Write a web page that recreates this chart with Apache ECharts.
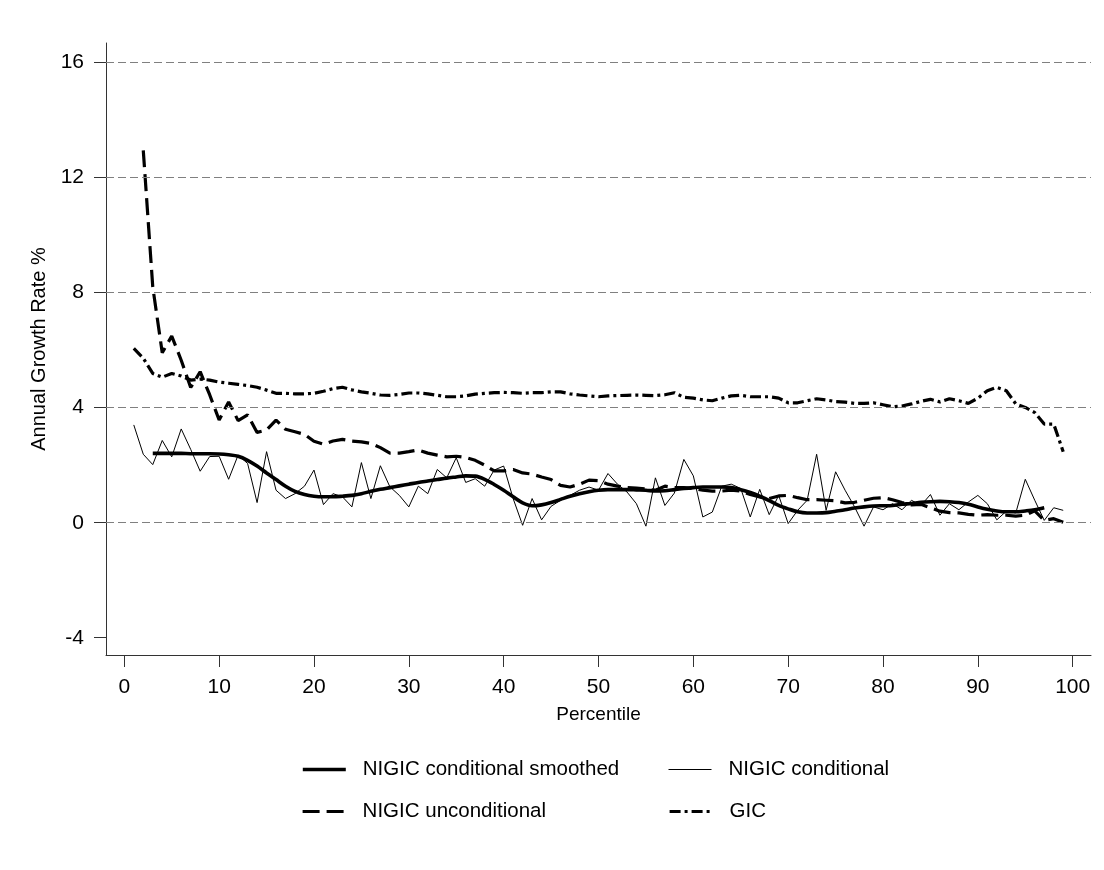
<!DOCTYPE html>
<html>
<head>
<meta charset="utf-8">
<script src="https://cdn.jsdelivr.net/npm/echarts@6/dist/echarts.min.js"></script>
<style>
  html, body { margin: 0; padding: 0; background: #fff; }
  #chart { width: 1104px; height: 870px; }
</style>
</head>
<body>
<div id="chart"></div>
<script>
const percentile = [
  1, 2, 3, 4, 5, 6, 7, 8, 9, 10, 11, 12, 13, 14, 15, 16, 17, 18, 19, 20,
  21, 22, 23, 24, 25, 26, 27, 28, 29, 30, 31, 32, 33, 34, 35, 36, 37, 38, 39, 40,
  41, 42, 43, 44, 45, 46, 47, 48, 49, 50, 51, 52, 53, 54, 55, 56, 57, 58, 59, 60,
  61, 62, 63, 64, 65, 66, 67, 68, 69, 70, 71, 72, 73, 74, 75, 76, 77, 78, 79, 80,
  81, 82, 83, 84, 85, 86, 87, 88, 89, 90, 91, 92, 93, 94, 95, 96, 97, 98, 99
];

// NIGIC conditional smoothed (percentiles 3..97)
const nigicSmoothed = [
  null, null, 2.41, 2.41, 2.41, 2.41, 2.40, 2.40, 2.40, 2.39,
  2.36, 2.31, 2.17, 1.97, 1.73, 1.50, 1.27, 1.09, 0.98, 0.92,
  0.90, 0.90, 0.92, 0.95, 1.01, 1.09, 1.16, 1.22, 1.28, 1.34,
  1.40, 1.45, 1.50, 1.55, 1.59, 1.63, 1.62, 1.51, 1.33, 1.13,
  0.90, 0.69, 0.59, 0.62, 0.70, 0.81, 0.92, 1.01, 1.08, 1.13,
  1.15, 1.15, 1.15, 1.14, 1.13, 1.10, 1.11, 1.15, 1.19, 1.22,
  1.24, 1.24, 1.24, 1.22, 1.15, 1.05, 0.92, 0.77, 0.60, 0.48,
  0.38, 0.34, 0.34, 0.35, 0.40, 0.45, 0.51, 0.55, 0.58, 0.59,
  0.60, 0.64, 0.67, 0.71, 0.73, 0.74, 0.73, 0.70, 0.64, 0.55,
  0.47, 0.41, 0.38, 0.38, 0.41, 0.45, 0.52, null, null
];

// NIGIC conditional (raw)
const nigicConditional = [
  3.40, 2.38, 2.02, 2.86, 2.29, 3.26, 2.55, 1.79, 2.30, 2.31,
  1.51, 2.35, 2.06, 0.70, 2.47, 1.13, 0.84, 1.01, 1.27, 1.83,
  0.63, 1.01, 0.90, 0.55, 2.09, 0.84, 1.98, 1.25, 0.95, 0.55,
  1.27, 1.01, 1.85, 1.56, 2.26, 1.40, 1.53, 1.27, 1.83, 1.97,
  0.84, -0.09, 0.84, 0.10, 0.57, 0.78, 0.95, 1.13, 1.24, 1.13,
  1.71, 1.34, 1.07, 0.66, -0.12, 1.56, 0.60, 1.03, 2.20, 1.63,
  0.20, 0.37, 1.27, 1.34, 1.19, 0.20, 1.16, 0.28, 0.95, -0.03,
  0.43, 0.78, 2.38, 0.43, 1.77, 1.13, 0.55, -0.12, 0.55, 0.45,
  0.66, 0.45, 0.78, 0.60, 0.98, 0.26, 0.66, 0.45, 0.72, 0.95,
  0.66, 0.10, 0.40, 0.34, 1.51, 0.78, 0.08, 0.52, 0.43
];

// NIGIC unconditional (percentiles 2..99)
const nigicUnconditional = [
  null, 12.95, 8.20, 5.91, 6.49, 5.65, 4.70, 5.25, 4.45, 3.57,
  4.20, 3.55, 3.75, 3.14, 3.22, 3.57, 3.25, 3.16, 3.07, 2.83,
  2.73, 2.84, 2.90, 2.84, 2.81, 2.76, 2.61, 2.42, 2.42, 2.47,
  2.53, 2.42, 2.35, 2.29, 2.31, 2.27, 2.17, 2.00, 1.80, 1.80,
  1.85, 1.73, 1.69, 1.59, 1.50, 1.30, 1.24, 1.34, 1.48, 1.46,
  1.34, 1.27, 1.22, 1.20, 1.17, 1.13, 1.27, 1.22, 1.22, 1.19,
  1.13, 1.10, 1.10, 1.13, 1.10, 0.98, 0.90, 0.84, 0.93, 0.95,
  0.87, 0.80, 0.80, 0.78, 0.76, 0.69, 0.71, 0.78, 0.85, 0.87,
  0.80, 0.70, 0.62, 0.64, 0.52, 0.40, 0.35, 0.34, 0.29, 0.26,
  0.28, 0.26, 0.26, 0.23, 0.26, 0.41, 0.08, 0.14, 0.02
];

// GIC
const gic = [
  6.06, 5.72, 5.19, 5.06, 5.19, 5.10, 4.96, 4.99, 4.96, 4.89,
  4.85, 4.81, 4.77, 4.71, 4.61, 4.50, 4.50, 4.48, 4.48, 4.50,
  4.57, 4.66, 4.71, 4.62, 4.55, 4.50, 4.44, 4.43, 4.46, 4.51,
  4.51, 4.48, 4.43, 4.38, 4.38, 4.41, 4.47, 4.50, 4.52, 4.53,
  4.52, 4.50, 4.52, 4.52, 4.55, 4.55, 4.48, 4.44, 4.41, 4.38,
  4.41, 4.42, 4.43, 4.44, 4.43, 4.42, 4.45, 4.52, 4.36, 4.33,
  4.27, 4.24, 4.33, 4.41, 4.43, 4.38, 4.38, 4.38, 4.33, 4.17,
  4.17, 4.24, 4.31, 4.27, 4.21, 4.19, 4.15, 4.15, 4.17, 4.10,
  4.03, 4.06, 4.13, 4.22, 4.29, 4.20, 4.31, 4.24, 4.15, 4.33,
  4.59, 4.71, 4.59, 4.13, 4.01, 3.83, 3.43, 3.43, 2.47
];

const xTicks = [0, 10, 20, 30, 40, 50, 60, 70, 80, 90, 100];
const yTicks = [-4, 0, 4, 8, 12, 16];
const gridValues = [0, 4, 8, 12, 16];

const FONT = '"Liberation Sans", Arial, Helvetica, sans-serif';

function pairs(values) {
  return percentile.map((p, i) => [p, values[i]]);
}

const chart = echarts.init(document.getElementById('chart'), null, { renderer: 'canvas' });

// Legend keys show the series line only (no point marker), at the series' own width
const legendBase = {
  orient: 'horizontal',
  padding: 0,
  itemWidth: 43,
  itemHeight: 14,
  selectedMode: false,
  itemStyle: { color: 'transparent', borderWidth: 0, opacity: 0 },
  lineStyle: { width: 'inherit' },
  textStyle: { fontFamily: FONT, fontSize: 20.5, color: '#000', padding: [0, 0, 0, 12] }
};

chart.setOption({
  animation: false,
  backgroundColor: '#fff',
  grid: { left: 106, right: 13, top: 43, bottom: 215, containLabel: false },
  legend: [
    Object.assign({}, legendBase, { data: ['NIGIC conditional smoothed'], left: 301, top: 759 }),
    Object.assign({}, legendBase, { data: ['NIGIC unconditional'], left: 301, top: 801 }),
    Object.assign({}, legendBase, { data: ['NIGIC conditional'], left: 668, top: 759 }),
    Object.assign({}, legendBase, { data: ['GIC'], left: 668, top: 801 })
  ],
  xAxis: {
    type: 'value',
    min: -1.93,
    max: 101.93,
    name: 'Percentile',
    nameLocation: 'middle',
    nameGap: 50,
    nameTextStyle: { fontFamily: FONT, fontSize: 19, color: '#000' },
    axisLine: { show: true, onZero: false, lineStyle: { color: '#333', width: 1 } },
    axisTick: { show: true, inside: false, length: 12, customValues: xTicks, lineStyle: { color: '#333', width: 1 } },
    axisLabel: { customValues: xTicks, fontFamily: FONT, fontSize: 21, color: '#000', margin: 22 },
    splitLine: { show: false }
  },
  yAxis: {
    type: 'value',
    min: -4.6,
    max: 16.68,
    name: 'Annual Growth Rate %',
    nameLocation: 'middle',
    nameGap: 48,
    nameRotate: 90,
    nameTextStyle: { fontFamily: FONT, fontSize: 20, color: '#000' },
    axisLine: { show: true, onZero: false, lineStyle: { color: '#333', width: 1 } },
    axisTick: { show: true, inside: false, length: 12, customValues: yTicks, lineStyle: { color: '#333', width: 1 } },
    axisLabel: { customValues: yTicks, fontFamily: FONT, fontSize: 21, color: '#000', margin: 22 },
    splitLine: { show: false }
  },
  series: [
    {
      name: 'NIGIC conditional',
      type: 'line',
      data: pairs(nigicConditional),
      symbol: 'none',
      connectNulls: false,
      lineStyle: { color: '#000', width: 1 },
      itemStyle: { color: '#000' },
      z: 2,
      markLine: {
        silent: true,
        symbol: 'none',
        label: { show: false },
        animation: false,
        lineStyle: { color: '#808080', width: 1.2, type: [8, 4] },
        data: gridValues.map(v => ({ yAxis: v }))
      }
    },
    {
      name: 'GIC',
      type: 'line',
      data: pairs(gic),
      symbol: 'none',
      lineStyle: { color: '#000', width: 3.2, type: [11, 4, 3, 4], cap: 'butt' },
      itemStyle: { color: '#000' },
      z: 3
    },
    {
      name: 'NIGIC unconditional',
      type: 'line',
      data: pairs(nigicUnconditional),
      symbol: 'none',
      lineStyle: { color: '#000', width: 3.2, type: [17, 7], cap: 'butt' },
      itemStyle: { color: '#000' },
      z: 4
    },
    {
      name: 'NIGIC conditional smoothed',
      type: 'line',
      data: pairs(nigicSmoothed),
      symbol: 'none',
      smooth: 0.3,
      lineStyle: { color: '#000', width: 3.6 },
      itemStyle: { color: '#000' },
      z: 5
    }
  ]
});
</script>
</body>
</html>
